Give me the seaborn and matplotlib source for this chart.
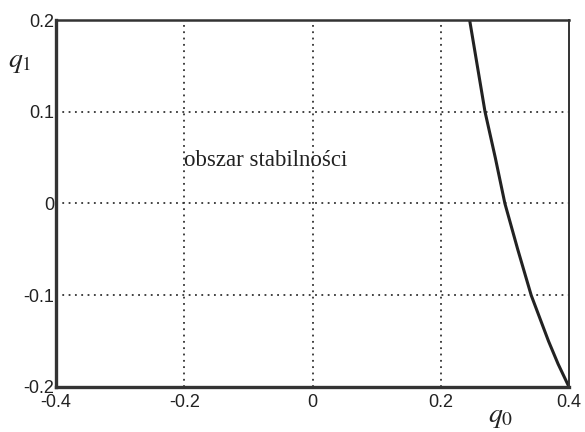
"""
Stability region boundary in the (q0, q1) plane
"""

import numpy as np
import pandas as pd
import matplotlib
matplotlib.use('Agg')
import matplotlib.pyplot as plt
import seaborn as sns
from matplotlib.ticker import MultipleLocator

# Boundary of the stability region
q1_values = [0.2, 0.15, 0.1, 0.05, 0.0, -0.05, -0.1, -0.15, -0.175, -0.2]
q0_values = [0.245, 0.257, 0.269, 0.285, 0.300, 0.320, 0.341, 0.368, 0.383, 0.400]

x_ticks = [-0.4, -0.2, 0, 0.2, 0.4]
x_tick_labels = ['-0.4', '-0.2', '0', '0.2', '0.4']
y_ticks = [-0.2, -0.1, 0, 0.1, 0.2]
y_tick_labels = ['-0.2', '-0.1', '0', '0.1', '0.2']
region_label = 'obszar stabilności'

sns.set_style('white')
plt.rcParams['font.family'] = ['Liberation Sans', 'DejaVu Sans']
plt.rcParams['mathtext.fontset'] = 'stix'

df = pd.DataFrame({'q0': q0_values, 'q1': q1_values})

fig = plt.figure(figsize=(5.85, 4.32), dpi=100)
ax = fig.add_axes([0.0957, 0.1042, 0.877, 0.8495])

sns.lineplot(data=df, x='q0', y='q1', sort=False, color='#222222',
             linewidth=2.2, ax=ax)

ax.set_xlim(-0.4, 0.4)
ax.set_ylim(-0.2, 0.2)

# Grid only at the labelled ticks
for x in x_ticks[1:-1]:
    ax.axvline(x, color='#333333', linestyle=(0, (1, 2.5)), linewidth=1.3, zorder=0)
for y in y_ticks[1:-1]:
    ax.axhline(y, color='#333333', linestyle=(0, (1, 2.5)), linewidth=1.3, zorder=0)

ax.set_xticks(x_ticks)
ax.set_xticklabels(x_tick_labels)
ax.set_yticks(y_ticks)
ax.set_yticklabels(y_tick_labels)
ax.xaxis.set_minor_locator(MultipleLocator(0.1))
ax.yaxis.set_minor_locator(MultipleLocator(0.05))
ax.tick_params(which='both', direction='in', length=4, width=1.2, color='#333333',
               top=False, right=False)
ax.tick_params(which='major', labelsize=13, pad=1, labelcolor='#222222')
ax.tick_params(axis='x', which='major', pad=5)

ax.set_xlabel('')
ax.set_ylabel('')

for side, lw in [('left', 2.4), ('bottom', 2.4), ('top', 1.8), ('right', 1.4)]:
    ax.spines[side].set_visible(True)
    ax.spines[side].set_linewidth(lw)
    ax.spines[side].set_color('#333333')

ax.text(-0.2, 0.047, region_label, fontsize=16.5, family='Liberation Serif',
        color='#222222', va='center', ha='left')

fig.text(0.014, 0.845, r'$q_1$', fontsize=20, color='#222222')
fig.text(0.835, 0.022, r'$q_0$', fontsize=20, color='#222222')

plt.savefig('out.png', dpi=100)
plt.close()
